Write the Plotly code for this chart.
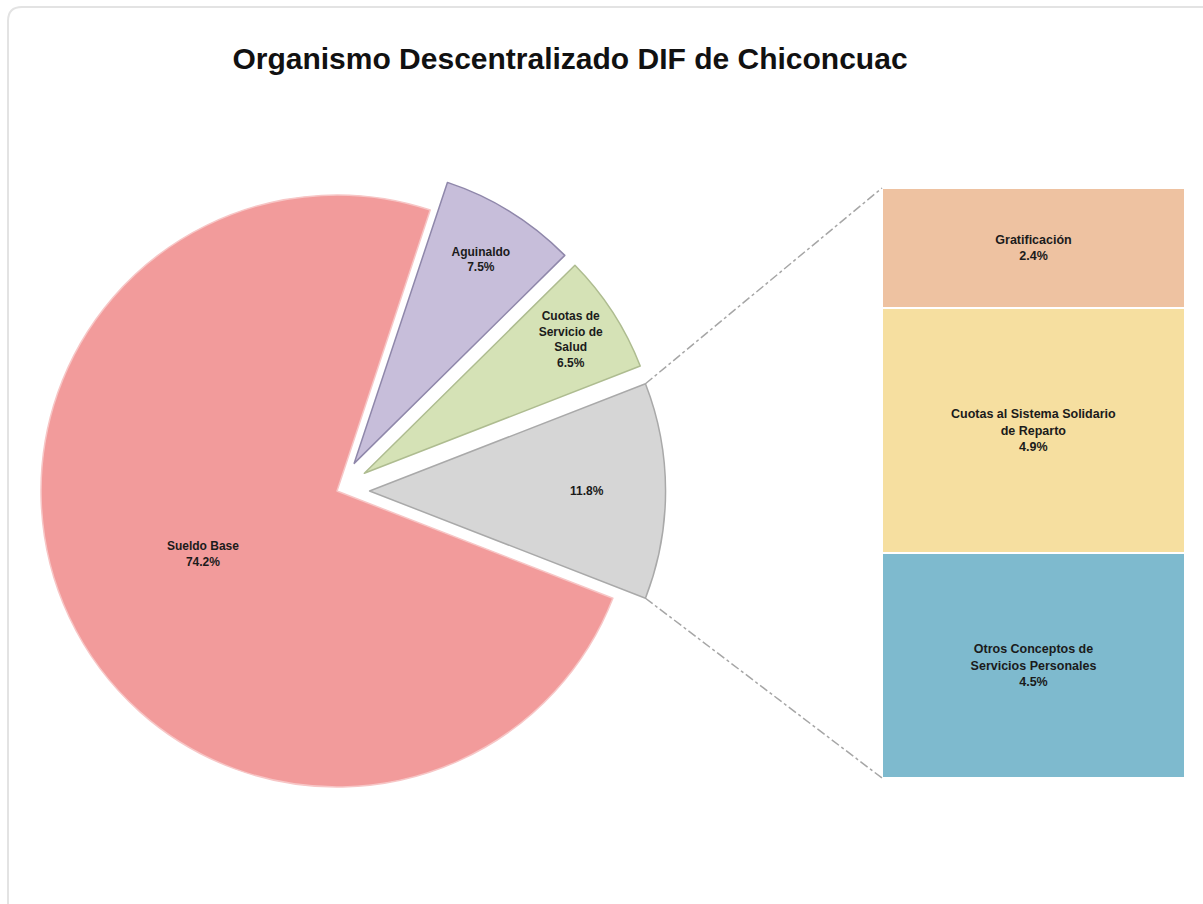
import math
import plotly.graph_objects as go

# ---------------- data ----------------
title_text = "Organismo Descentralizado DIF de Chiconcuac"

pie_labels = ["Otros", "Cuotas de Servicio de Salud", "Aguinaldo", "Sueldo Base"]
pie_display = ["", "Cuotas de<br>Servicio de<br>Salud", "Aguinaldo", "Sueldo Base"]
pie_values = [11.8, 6.5, 7.5, 74.2]
pie_colors = ["#D6D6D6", "#D5E2B6", "#C7BEDA", "#F29B9B"]
pie_edges = ["#A9A9A9", "#AEBC90", "#8F87AA", "#F7C6C6"]
pie_pull = [0.11, 0.11, 0.11, 0.0]

bar_labels = ["Otros Conceptos de<br>Servicios Personales",
              "Cuotas al Sistema Solidario<br>de Reparto",
              "Gratificación"]
bar_values = [4.5, 4.9, 2.4]
bar_colors = ["#7EBACE", "#F6DFA0", "#EEC2A1"]

# ---------------- layout constants ----------------
W, H = 1203, 904
CX, CY, R = 337, 491, 296          # pie centre / radius in px
PULL = max(pie_pull)
half = R * (1 + PULL)
pie_dom_x = [(CX - half) / W, (CX + half) / W]
pie_dom_y = [1 - (CY + half) / H, 1 - (CY - half) / H]

BAR_X = [882 / W, 1185 / W]
BAR_Y = [1 - 778 / H, 1 - 188 / H]

other_share = pie_values[0] / sum(pie_values)
half_angle = other_share * 180.0           # degrees
rotation = 90 - half_angle                 # "other" slice centred on the right

fig = go.Figure()

fig.add_trace(go.Pie(
    labels=pie_labels,
    values=pie_values,
    text=pie_display,
    sort=False,
    direction="counterclockwise",
    rotation=rotation,
    pull=pie_pull,
    marker=dict(colors=pie_colors, line=dict(color=pie_edges, width=1.5)),
    texttemplate=["%{value:.1f}%"] + ["%{text}<br>%{value:.1f}%"] * 3,
    textposition="inside",
    insidetextorientation="horizontal",
    textfont=dict(family="Liberation Sans, Arial", size=12, color="#1b1b1b", weight="bold"),
    domain=dict(x=pie_dom_x, y=pie_dom_y),
    showlegend=False,
    hoverinfo="label+percent",
))

for lab, val, col in zip(bar_labels, bar_values, bar_colors):
    fig.add_trace(go.Bar(
        x=[0], y=[val], text=[lab],
        texttemplate="%{text}<br>%{y:.1f}%",
        textposition="inside", insidetextanchor="middle", textangle=0,
        textfont=dict(family="Liberation Sans, Arial", size=12.5, color="#1b1b1b", weight="bold"),
        marker=dict(color=col, line=dict(color="#FFFFFF", width=2)),
        width=1, xaxis="x2", yaxis="y2", showlegend=False, name=lab.replace("<br>", " "),
    ))

# connector lines from the "other" slice to the bar
off = PULL * R
vx = CX + off          # vertex of the pulled "other" slice (bisector at 0 deg)
a = math.radians(half_angle)
px_top = (vx + R * math.cos(a), CY - R * math.sin(a))
px_bot = (vx + R * math.cos(a), CY + R * math.sin(a))
total = sum(bar_values)

# rounded frame (left and top edges visible)
fx0, fy0, rad = 8, 7, 14
frame_path = ("M {x0},{yb} L {x0},{yc} Q {x0},{y0} {xc},{y0} L {xr},{y0}").format(
    x0=fx0 / W, yb=-0.05, yc=1 - (fy0 + rad) / H, y0=1 - fy0 / H,
    xc=(fx0 + rad) / W, xr=1.05)

shapes = [
    dict(type="line", xref="paper", yref="paper",
         x0=px_top[0] / W, y0=1 - px_top[1] / H, x1=BAR_X[0], y1=BAR_Y[1],
         line=dict(color="#A6A6A6", width=1.5, dash="dashdot")),
    dict(type="line", xref="paper", yref="paper",
         x0=px_bot[0] / W, y0=1 - px_bot[1] / H, x1=BAR_X[0], y1=BAR_Y[0],
         line=dict(color="#A6A6A6", width=1.5, dash="dashdot")),
    dict(type="path", xref="paper", yref="paper", path=frame_path,
         line=dict(color="#E3E3E3", width=2), layer="below"),
]

fig.update_layout(
    width=W, height=H,
    margin=dict(l=0, r=0, t=0, b=0),
    paper_bgcolor="white", plot_bgcolor="white",
    title=dict(text=title_text, x=570 / W, y=1 - 58 / H, xanchor="center", yanchor="middle",
               font=dict(family="Liberation Sans, Arial", size=30, color="#111111", weight="bold")),
    barmode="stack", bargap=0,
    xaxis2=dict(domain=BAR_X, range=[-0.5, 0.5], visible=False, anchor="y2"),
    yaxis2=dict(domain=BAR_Y, range=[0, total], visible=False, anchor="x2"),
    shapes=shapes,
    font=dict(family="Liberation Sans, Arial"),
)

fig.write_html("out.html", post_script="document.body.style.margin='0';",
               config={"displayModeBar": False})
